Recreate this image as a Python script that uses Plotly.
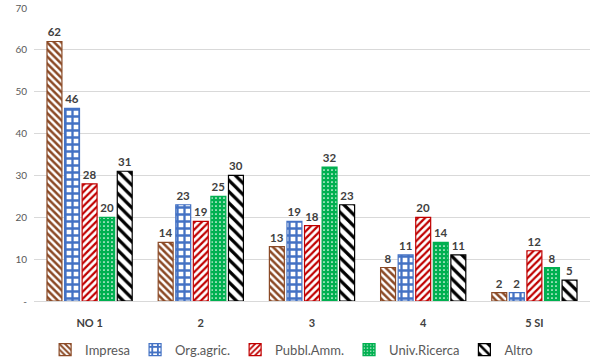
import plotly.graph_objects as go

categories = ["NO 1", "2", "3", "4", "5 SI"]
series_names = ["Impresa", "Org.agric.", "Pubbl.Amm.", "Univ.Ricerca", "Altro"]
impresa = [62, 14, 13, 8, 2]
org_agric = [46, 23, 19, 11, 2]
pubbl_amm = [28, 19, 18, 20, 12]
univ_ricerca = [20, 25, 32, 14, 8]
altro = [31, 30, 23, 11, 5]
y_ticks = [0, 10, 20, 30, 40, 50, 60, 70]
y_tick_labels = ["-", "10", "20", "30", "40", "50", "60", "70"]

values = [impresa, org_agric, pubbl_amm, univ_ricerca, altro]
styles = [
    dict(line="#8B4A26", shape="\\", fg="#8B4A26", bg="white", size=5, sol=0.5),
    dict(line="#4472C4", shape="+", fg="#4472C4", bg="white", size=7, sol=0.55),
    dict(line="#C00000", shape="/", fg="#C00000", bg="white", size=5, sol=0.45),
    dict(line="#00B050", shape=".", fg="white", bg="#00B050", size=4, sol=0.15),
    dict(line="#000000", shape="\\", fg="#000000", bg="white", size=8, sol=0.4),
]

fig = go.Figure()
for name, vals, st in zip(series_names, values, styles):
    fig.add_trace(go.Bar(
        x=categories, y=vals, name=name,
        text=[str(v) for v in vals], textposition="outside",
        textfont=dict(family="Lato", size=11.5, color="#404040", weight="bold"),
        cliponaxis=False,
        marker=dict(
            color=st["bg"],
            line=dict(color=st["line"], width=1.2),
            pattern=dict(shape=st["shape"], fgcolor=st["fg"], bgcolor=st["bg"],
                         size=st["size"], solidity=st["sol"], fillmode="replace"),
        ),
    ))

fig.update_layout(
    width=600, height=362,
    margin=dict(l=34, r=10, t=8, b=61, autoexpand=False),
    paper_bgcolor="white", plot_bgcolor="white",
    barmode="group", bargap=0.21, bargroupgap=0.15,
    font=dict(family="Lato", color="#595959"),
    legend=dict(orientation="h", x=0.02, xanchor="left", y=-0.115, yanchor="top",
                font=dict(size=13, color="#595959"), itemwidth=30,
                tracegroupgap=0),
    showlegend=True,
)
fig.update_xaxes(tickfont=dict(size=11, color="#404040", weight="bold"),
                 showline=True, linecolor="#D9D9D9", ticks="",
                 ticklabelstandoff=12, automargin=False)
fig.update_yaxes(range=[0, 70], tickvals=y_ticks, ticktext=y_tick_labels,
                 tickfont=dict(size=10, color="#595959"),
                 showgrid=True, gridcolor="#D9D9D9", zeroline=False,
                 showline=False, automargin=False, ticklabelstandoff=6)

fig.write_html("out.html", config={"displayModeBar": False},
               post_script="document.body.style.margin='0px';")
